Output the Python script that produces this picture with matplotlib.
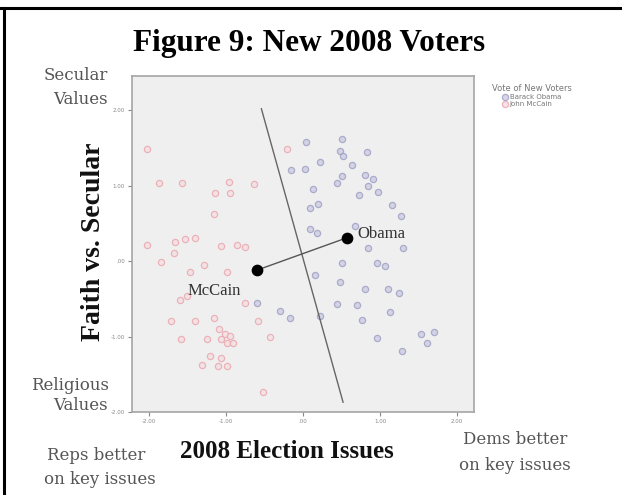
import matplotlib
matplotlib.use("Agg")
import matplotlib.pyplot as plt
from matplotlib.lines import Line2D

W, H = 622, 495

# ── Data ─────────────────────────────────────────────────────────────────────
obama_x = [0.04, 0.50, 0.48, 0.52, 0.83, 0.22, 0.63, 0.03, -0.15, 0.50, 0.44,
           0.81, 0.91, 0.85, 0.98, 0.73, 0.13, 1.16, 1.27, 0.20, 0.09, 0.09,
           0.18, 0.68, 0.85, 1.30, 0.50, 0.96, 1.06, 0.16, 0.48, 0.81, 1.10,
           1.24, 0.44, 0.70, 1.13, 0.22, -0.17, -0.30, -0.60, 0.76, 1.53,
           1.70, 1.61, 0.96, 1.28]
obama_y = [1.58, 1.62, 1.46, 1.39, 1.45, 1.32, 1.28, 1.22, 1.21, 1.13, 1.04,
           1.14, 1.09, 1.00, 0.92, 0.88, 0.96, 0.74, 0.60, 0.76, 0.71, 0.42,
           0.37, 0.47, 0.17, 0.17, -0.02, -0.02, -0.06, -0.19, -0.27, -0.37,
           -0.37, -0.42, -0.57, -0.58, -0.68, -0.73, -0.75, -0.66, -0.55,
           -0.78, -0.96, -0.94, -1.09, -1.02, -1.19]

mccain_x = [-2.02, -1.87, -1.57, -0.96, -1.14, -0.95, -0.63, -1.15, -0.21,
            -2.02, -1.66, -1.53, -1.40, -1.06, -0.86, -0.75, -1.68, -1.84,
            -1.29, -0.99, -1.47, -1.60, -1.51, -0.75, -1.71, -1.40, -1.15,
            -0.58, -1.09, -1.01, -0.95, -1.06, -0.99, -0.91, -1.58, -1.25,
            -0.43, -1.21, -1.06, -1.31, -1.10, -0.99, -0.52]
mccain_y = [1.49, 1.04, 1.03, 1.05, 0.91, 0.90, 1.02, 0.62, 1.49,
            0.21, 0.26, 0.29, 0.31, 0.20, 0.21, 0.19, 0.11, -0.01,
            -0.05, -0.15, -0.15, -0.51, -0.46, -0.55, -0.80, -0.79, -0.76,
            -0.80, -0.90, -0.97, -0.99, -1.03, -1.08, -1.09, -1.03, -1.03,
            -1.00, -1.26, -1.28, -1.38, -1.39, -1.39, -1.74]

# candidate positions and the dividing line
cand_names = ["McCain", "Obama"]
cand_x = [-0.60, 0.57]
cand_y = [-0.12, 0.31]
divide_x = [-0.54, 0.52]
divide_y = [2.02, -1.87]

tick_vals = [-2, -1, 0, 1, 2]
tick_labels = ["-2.00", "-1.00", ".00", "1.00", "2.00"]

SERIF = "Liberation Serif"
SOFT_SERIF = "DejaVu Serif"
GREY_TXT = "#555555"


def fx(px):
    return px / W


def fy(py):
    return 1 - py / H


fig = plt.figure(figsize=(W / 100, H / 100), dpi=100, facecolor="white")

# document frame: top rule and left rule
fig.add_artist(Line2D([0, 1], [fy(7.5), fy(7.5)], color="black", lw=2.2))
fig.add_artist(Line2D([fx(4), fx(4)], [0, fy(7.5)], color="black", lw=2.2))

ax = fig.add_axes([fx(132), fy(412), fx(474) - fx(132), fy(76) - fy(412)])
ax.set_facecolor("#efefef")
ax.set_xlim(-2.22, 2.22)
ax.set_ylim(-1.98, 2.455)

ax.scatter(obama_x, obama_y, s=20, facecolor="#cdcde2", edgecolor="#9c9cc4",
           linewidth=0.9, alpha=0.8, zorder=3, label="Barack Obama")
ax.scatter(mccain_x, mccain_y, s=20, facecolor="#f4e0e3", edgecolor="#eba8b1",
           linewidth=0.9, alpha=0.85, zorder=3, label="John McCain")

ax.plot(divide_x, divide_y, color="#666666", lw=1.0, zorder=4)
ax.plot(cand_x, cand_y, color="#555555", lw=1.0, zorder=4)
ax.scatter(cand_x, cand_y, s=55, color="black", zorder=5)

ax.text(cand_x[0] - 0.55, cand_y[0] - 0.28, cand_names[0], fontsize=12,
        family=SERIF, color="#333333", ha="center", va="center", zorder=6)
ax.text(cand_x[1] + 0.14, cand_y[1] + 0.05, cand_names[1], fontsize=12,
        family=SERIF, color="#333333", ha="left", va="center", zorder=6)

ax.set_xticks(tick_vals)
ax.set_xticklabels(tick_labels)
ax.set_yticks(tick_vals)
ax.set_yticklabels(tick_labels)
ax.tick_params(length=3, width=0.8, color="#888888", labelcolor="#888888",
               labelsize=4, pad=2)
for spine in ax.spines.values():
    spine.set_color("#a5a5a5")
    spine.set_linewidth(1.2)

leg = fig.legend(loc="upper left", bbox_to_anchor=(fx(486), fy(78)),
                 title="Vote of New Voters", fontsize=5, title_fontsize=6,
                 frameon=False, handletextpad=0.1, labelspacing=0.15,
                 handlelength=1.0, borderpad=0.3)
for t in leg.get_texts():
    t.set_color("#777777")
leg.get_title().set_color("#777777")

# ── Text ──────────────────────────────────────────────────────────────────────
fig.text(fx(309), fy(43), "Figure 9: New 2008 Voters", ha="center", va="center",
         fontsize=22.5, fontweight="bold", family=SERIF, color="black")
fig.text(fx(94), fy(242), "Faith vs. Secular", rotation=90, ha="center",
         va="center", fontsize=20, fontweight="bold", family=SERIF, color="#111111")
fig.text(fx(287), fy(452), "2008 Election Issues", ha="center", va="center",
         fontsize=18, fontweight="bold", family=SERIF, color="#111111")

fig.text(fx(76), fy(76), "Secular", ha="center", va="center", fontsize=12,
         family=SOFT_SERIF, color=GREY_TXT)
fig.text(fx(80), fy(100), "Values", ha="center", va="center", fontsize=12,
         family=SOFT_SERIF, color=GREY_TXT)
fig.text(fx(70), fy(385), "Religious", ha="center", va="center", fontsize=12,
         family=SOFT_SERIF, color=GREY_TXT)
fig.text(fx(80), fy(406), "Values", ha="center", va="center", fontsize=12,
         family=SOFT_SERIF, color=GREY_TXT)
fig.text(fx(96), fy(455), "Reps better", ha="center", va="center", fontsize=12,
         family=SOFT_SERIF, color=GREY_TXT)
fig.text(fx(100), fy(480), "on key issues", ha="center", va="center",
         fontsize=12, family=SOFT_SERIF, color=GREY_TXT)
fig.text(fx(515), fy(440), "Dems better", ha="center", va="center",
         fontsize=12, family=SOFT_SERIF, color=GREY_TXT)
fig.text(fx(515), fy(465), "on key issues", ha="center", va="center",
         fontsize=12, family=SOFT_SERIF, color=GREY_TXT)

fig.savefig("out.png", dpi=100, facecolor="white")
